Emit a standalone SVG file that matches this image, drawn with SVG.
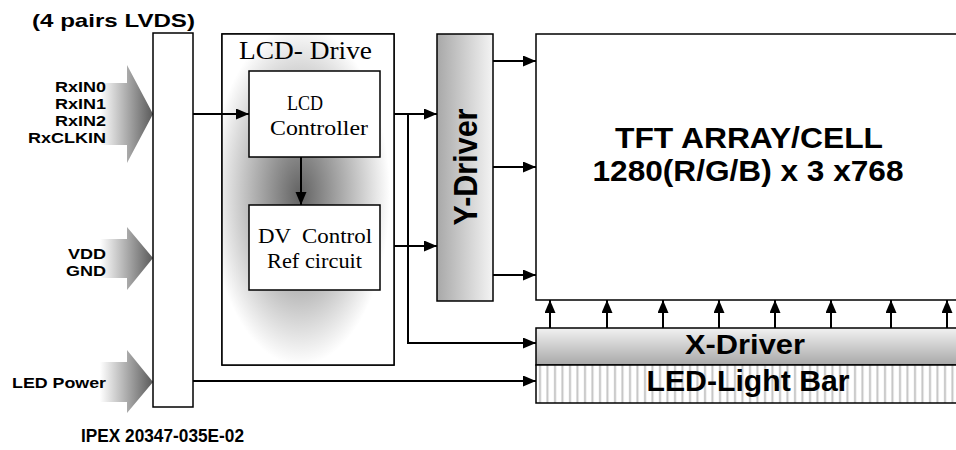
<svg xmlns="http://www.w3.org/2000/svg" width="956" height="450" viewBox="0 0 956 450">
<defs>
  <style>
    .box{fill:#fff;stroke:#000;stroke-width:1.5}
    .sans{font-family:"Liberation Sans",Arial,sans-serif;font-weight:bold;fill:#000}
    .serif{font-family:"Liberation Serif","Times New Roman",serif;fill:#000}
    .conn{fill:none;stroke:#000;stroke-width:2}
  </style>
  <marker id="ah" markerUnits="userSpaceOnUse" markerWidth="14" markerHeight="12" refX="13" refY="5.5" orient="auto">
    <path d="M0,0 L13,5.5 L0,11 z" fill="#000"/>
  </marker>
  <linearGradient id="bigArrow" x1="0" y1="0" x2="1" y2="0">
    <stop offset="0" stop-color="#ffffff"/>
    <stop offset="1" stop-color="#5a5a5a"/>
  </linearGradient>
  <linearGradient id="ygrad" x1="0" y1="0" x2="1" y2="0">
    <stop offset="0" stop-color="#a8a8a8"/>
    <stop offset="1" stop-color="#f4f4f4"/>
  </linearGradient>
  <linearGradient id="xgrad" x1="0" y1="0" x2="0" y2="1">
    <stop offset="0" stop-color="#f2f2f2"/>
    <stop offset="1" stop-color="#a8a8a8"/>
  </linearGradient>
  <radialGradient id="shadow" cx="300" cy="195" r="1" gradientUnits="userSpaceOnUse" gradientTransform="translate(300 195) scale(90 170) translate(-300 -195)">
    <stop offset="0" stop-color="#626262"/>
    <stop offset="0.5" stop-color="#b0b0b0"/>
    <stop offset="1" stop-color="#ffffff"/>
  </radialGradient>
  <pattern id="stripes" patternUnits="userSpaceOnUse" x="536" y="0" width="7.5" height="10">
    <rect width="7.5" height="10" fill="#fff"/>
    <rect x="3" width="2" height="10" fill="#c4c4c4"/>
  </pattern>
  <clipPath id="lcdClip"><rect x="222" y="34" width="172" height="331"/></clipPath>
</defs>

<g id="title">
  <text class="sans" x="32" y="27" font-size="19" textLength="163" lengthAdjust="spacingAndGlyphs">(4 pairs LVDS)</text>
</g>

<g id="input-lvds">
  <path d="M100,83 H127 V65 L153,114 L127,163 V145 H100 z" fill="url(#bigArrow)"/>
  <text class="sans" x="55" y="92" font-size="15" textLength="51" lengthAdjust="spacingAndGlyphs">RxIN0</text>
  <text class="sans" x="55" y="109" font-size="15" textLength="51" lengthAdjust="spacingAndGlyphs">RxIN1</text>
  <text class="sans" x="55" y="126" font-size="15" textLength="51" lengthAdjust="spacingAndGlyphs">RxIN2</text>
  <text class="sans" x="28" y="143" font-size="15" textLength="78" lengthAdjust="spacingAndGlyphs">RxCLKIN</text>
</g>

<g id="input-power">
  <path d="M100,239 H127 V227 L153,258 L127,290 V278 H100 z" fill="url(#bigArrow)"/>
  <text class="sans" x="68" y="259" font-size="15" textLength="38" lengthAdjust="spacingAndGlyphs">VDD</text>
  <text class="sans" x="66" y="276" font-size="15" textLength="40" lengthAdjust="spacingAndGlyphs">GND</text>
</g>

<g id="input-led">
  <path d="M100,362 H127 V350 L153,382 L127,413 V402 H100 z" fill="url(#bigArrow)"/>
  <text class="sans" x="12" y="388" font-size="15" textLength="94" lengthAdjust="spacingAndGlyphs">LED Power</text>
</g>

<g id="connector">
  <rect class="box" x="153" y="33" width="40" height="374"/>
  <text class="sans" x="81" y="442" font-size="18" textLength="163" lengthAdjust="spacingAndGlyphs">IPEX 20347-035E-02</text>
</g>

<g id="lcd-drive">
  <rect class="box" x="222" y="34" width="172" height="331"/>
  <rect x="210" y="30" width="190" height="340" fill="url(#shadow)" clip-path="url(#lcdClip)"/>
  <rect x="222" y="34" width="172" height="331" fill="none" stroke="#000" stroke-width="1.5"/>
  <text class="serif" x="239" y="59" font-size="25" textLength="133" lengthAdjust="spacingAndGlyphs">LCD- Drive</text>
</g>

<g id="lcd-controller">
  <rect class="box" x="249" y="71" width="131" height="86"/>
  <text class="serif" x="287" y="110" font-size="21" textLength="36" lengthAdjust="spacingAndGlyphs">LCD</text>
  <text class="serif" x="270" y="135" font-size="21" textLength="98" lengthAdjust="spacingAndGlyphs">Controller</text>
</g>

<g id="dv-control">
  <rect class="box" x="249" y="205" width="131" height="85"/>
  <text class="serif" x="258" y="243" font-size="21" textLength="114" lengthAdjust="spacingAndGlyphs" xml:space="preserve">DV  Control</text>
  <text class="serif" x="267" y="268" font-size="21" textLength="95" lengthAdjust="spacingAndGlyphs">Ref circuit</text>
</g>

<g id="y-driver">
  <rect x="437" y="34" width="56" height="267" fill="url(#ygrad)" stroke="#000" stroke-width="1.5"/>
  <text class="sans" transform="translate(477 167) rotate(-90)" x="0" y="0" font-size="33" text-anchor="middle" textLength="117" lengthAdjust="spacingAndGlyphs">Y-Driver</text>
</g>

<g id="tft-array">
  <rect class="box" x="536" y="34" width="430" height="266"/>
  <text class="sans" x="749" y="148" font-size="29" text-anchor="middle" textLength="268" lengthAdjust="spacingAndGlyphs">TFT ARRAY/CELL</text>
  <text class="sans" x="748" y="181" font-size="29" text-anchor="middle" textLength="311" lengthAdjust="spacingAndGlyphs">1280(R/G/B) x 3 x768</text>
</g>

<g id="x-driver">
  <rect x="536" y="328" width="430" height="37" fill="url(#xgrad)" stroke="#000" stroke-width="1.5"/>
  <text class="sans" x="745" y="354" font-size="27" text-anchor="middle" textLength="120" lengthAdjust="spacingAndGlyphs">X-Driver</text>
</g>

<g id="led-light-bar">
  <rect x="536" y="365" width="430" height="38" fill="url(#stripes)" stroke="#000" stroke-width="1.5"/>
  <text class="sans" x="748" y="391" font-size="30" text-anchor="middle" textLength="203" lengthAdjust="spacingAndGlyphs">LED-Light Bar</text>
</g>

<g id="connectors">
  <path class="conn" d="M193,114 H249" marker-end="url(#ah)"/>
  <path class="conn" d="M301,157 V205" marker-end="url(#ah)"/>
  <path class="conn" d="M394,114 H437" marker-end="url(#ah)"/>
  <path class="conn" d="M394,246 H437" marker-end="url(#ah)"/>
  <path class="conn" d="M408,114 V343 H536" marker-end="url(#ah)"/>
  <path class="conn" d="M493,61 H536" marker-end="url(#ah)"/>
  <path class="conn" d="M493,167 H536" marker-end="url(#ah)"/>
  <path class="conn" d="M493,275 H536" marker-end="url(#ah)"/>
  <path class="conn" d="M550,328 V300" marker-end="url(#ah)"/>
  <path class="conn" d="M607,328 V300" marker-end="url(#ah)"/>
  <path class="conn" d="M663,328 V300" marker-end="url(#ah)"/>
  <path class="conn" d="M719,328 V300" marker-end="url(#ah)"/>
  <path class="conn" d="M775,328 V300" marker-end="url(#ah)"/>
  <path class="conn" d="M831,328 V300" marker-end="url(#ah)"/>
  <path class="conn" d="M891,328 V300" marker-end="url(#ah)"/>
  <path class="conn" d="M947,328 V300" marker-end="url(#ah)"/>
  <path class="conn" d="M193,381 H536" marker-end="url(#ah)"/>
</g>
</svg>
